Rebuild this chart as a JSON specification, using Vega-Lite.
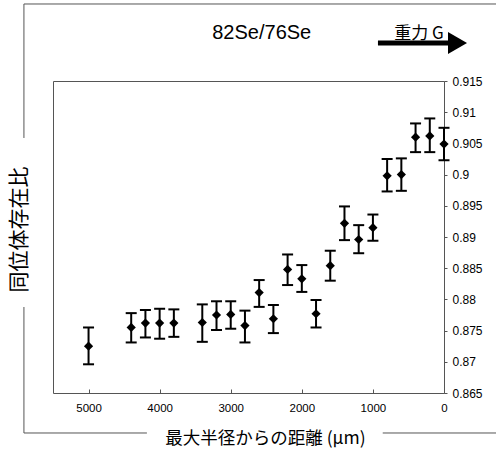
{
  "$schema": "https://vega.github.io/schema/vega-lite/v6.json",
  "width": 391,
  "height": 312,
  "autosize": {"type": "none"},
  "padding": {"left": 53, "top": 81, "right": 52, "bottom": 59},
  "background": "white",
  "config": {"view": {"stroke": "#555", "strokeWidth": 1}, "axis": {"grid": false}},
  "resolve": {"axis": {"y": "independent"}},
  "data": {"values": [
    {"d": 5000, "v": 0.8725, "lo": 0.8696, "hi": 0.8755},
    {"d": 4400, "v": 0.8755, "lo": 0.8731, "hi": 0.8778},
    {"d": 4200, "v": 0.8762, "lo": 0.8739, "hi": 0.8783},
    {"d": 4000, "v": 0.8762, "lo": 0.8737, "hi": 0.8785},
    {"d": 3800, "v": 0.8762, "lo": 0.8740, "hi": 0.8784},
    {"d": 3400, "v": 0.8763, "lo": 0.8732, "hi": 0.8792},
    {"d": 3200, "v": 0.8775, "lo": 0.8751, "hi": 0.8797},
    {"d": 3000, "v": 0.8776, "lo": 0.8753, "hi": 0.8797},
    {"d": 2800, "v": 0.8758, "lo": 0.8731, "hi": 0.8782},
    {"d": 2600, "v": 0.8811, "lo": 0.8788, "hi": 0.8831},
    {"d": 2400, "v": 0.8769, "lo": 0.8746, "hi": 0.8791},
    {"d": 2200, "v": 0.8848, "lo": 0.8823, "hi": 0.8872},
    {"d": 2000, "v": 0.8833, "lo": 0.8812, "hi": 0.8855},
    {"d": 1800, "v": 0.8777, "lo": 0.8755, "hi": 0.8799},
    {"d": 1600, "v": 0.8854, "lo": 0.8830, "hi": 0.8878},
    {"d": 1400, "v": 0.8922, "lo": 0.8895, "hi": 0.8949},
    {"d": 1200, "v": 0.8896, "lo": 0.8874, "hi": 0.8919},
    {"d": 1000, "v": 0.8915, "lo": 0.8894, "hi": 0.8936},
    {"d": 800, "v": 0.8998, "lo": 0.8973, "hi": 0.9025},
    {"d": 600, "v": 0.9000, "lo": 0.8974, "hi": 0.9026},
    {"d": 400, "v": 0.9060, "lo": 0.9036, "hi": 0.9082},
    {"d": 200, "v": 0.9062, "lo": 0.9036, "hi": 0.9090},
    {"d": 0, "v": 0.9049, "lo": 0.9023, "hi": 0.9075}
  ]},
  "layer": [
    {
      "mark": {"type": "rule", "strokeWidth": 2, "color": "black"},
      "encoding": {
        "x": {"field": "d", "type": "quantitative", "scale": {"domain": [0, 5500], "reverse": true, "nice": false, "zero": false},
          "axis": {"orient": "bottom", "title": "最大半径からの距離 (μm)", "values": [0, 1000, 2000, 3000, 4000, 5000], "format": "d",
            "domain": false, "tickSize": -4, "tickColor": "#555", "labelFont": "Liberation Sans", "labelFontSize": 11.5,
            "labelColor": "black", "labelPadding": 13, "labelFlush": false, "labelOverlap": false,
            "titleFont": "Noto Sans CJK JP", "titleFontSize": 17.5, "titleFontWeight": "normal", "titleColor": "black",
            "titleX": 212, "titleY": 45, "titleBaseline": "middle"}},
        "y": {"field": "lo", "type": "quantitative", "scale": {"domain": [0.865, 0.915], "nice": false, "zero": false},
          "axis": {"orient": "left", "title": "同位体存在比", "labels": false, "ticks": false, "domain": false,
            "titleFont": "Noto Sans CJK JP", "titleFontSize": 21, "titleFontWeight": "normal", "titleColor": "black",
            "titlePadding": 24, "titleY": 148}},
        "y2": {"field": "hi"}
      }
    },
    {
      "mark": {"type": "tick", "orient": "horizontal", "size": 11, "thickness": 2, "color": "black", "opacity": 1},
      "encoding": {
        "x": {"field": "d", "type": "quantitative"},
        "y": {"field": "lo", "type": "quantitative", "axis": null}
      }
    },
    {
      "mark": {"type": "tick", "orient": "horizontal", "size": 11, "thickness": 2, "color": "black", "opacity": 1},
      "encoding": {
        "x": {"field": "d", "type": "quantitative"},
        "y": {"field": "hi", "type": "quantitative", "axis": null}
      }
    },
    {
      "mark": {"type": "point", "shape": "diamond", "filled": true, "size": 85, "color": "black", "opacity": 1},
      "encoding": {
        "x": {"field": "d", "type": "quantitative"},
        "y": {"field": "v", "type": "quantitative",
          "axis": {"orient": "right", "title": null, "values": [0.865, 0.87, 0.875, 0.88, 0.885, 0.89, 0.895, 0.9, 0.905, 0.91, 0.915],
            "format": "~g", "domain": false, "tickSize": 3, "tickColor": "#555", "labelFont": "Liberation Sans", "labelFontSize": 12,
            "labelColor": "black", "labelPadding": 5, "labelFlush": false, "labelOverlap": false}}
      }
    },
    {
      "data": {"values": [{}]},
      "mark": {"type": "rule", "color": "#555", "strokeWidth": 1},
      "encoding": {"x": {"datum": 5909}, "y": {"datum": 0.92734, "axis": null}, "y2": {"datum": 0.90587}}
    },
    {
      "data": {"values": [{}]},
      "mark": {"type": "rule", "color": "#555", "strokeWidth": 1},
      "encoding": {"x": {"datum": 5909}, "y": {"datum": 0.87878, "axis": null}, "y2": {"datum": 0.85859}}
    },
    {
      "data": {"values": [{}]},
      "mark": {"type": "rule", "color": "#555", "strokeWidth": 1},
      "encoding": {"x": {"datum": 5909}, "x2": {"datum": -1000}, "y": {"datum": 0.92734, "axis": null}}
    },
    {
      "data": {"values": [{}]},
      "mark": {"type": "rule", "color": "#555", "strokeWidth": 1},
      "encoding": {"x": {"datum": 5909}, "x2": {"datum": 4179}, "y": {"datum": 0.85859, "axis": null}}
    },
    {
      "data": {"values": [{}]},
      "mark": {"type": "rule", "color": "#555", "strokeWidth": 1},
      "encoding": {"x": {"datum": 862}, "x2": {"datum": -1000}, "y": {"datum": 0.85859, "axis": null}}
    },
    {
      "data": {"values": [{}]},
      "mark": {"type": "rule", "color": "black", "strokeWidth": 5},
      "encoding": {"x": {"datum": 929}, "x2": {"datum": -84}, "y": {"datum": 0.92109, "axis": null}}
    },
    {
      "data": {"values": [{}]},
      "mark": {"type": "point", "shape": "triangle-right", "filled": true, "size": 484, "color": "black", "opacity": 1},
      "encoding": {"x": {"datum": -190}, "y": {"datum": 0.92109, "axis": null}}
    },
    {
      "data": {"values": [{}]},
      "mark": {"type": "text", "text": "重力 G", "font": "Noto Sans CJK JP", "fontSize": 17, "color": "black", "align": "center", "baseline": "middle"},
      "encoding": {"x": {"datum": 352}, "y": {"datum": 0.9226, "axis": null}}
    },
    {
      "data": {"values": [{}]},
      "mark": {"type": "text", "text": "82Se/76Se", "font": "Liberation Sans", "fontSize": 20, "color": "black", "align": "center", "baseline": "middle"},
      "encoding": {"x": {"datum": 2564}, "y": {"datum": 0.92277, "axis": null}}
    }
  ]
}
